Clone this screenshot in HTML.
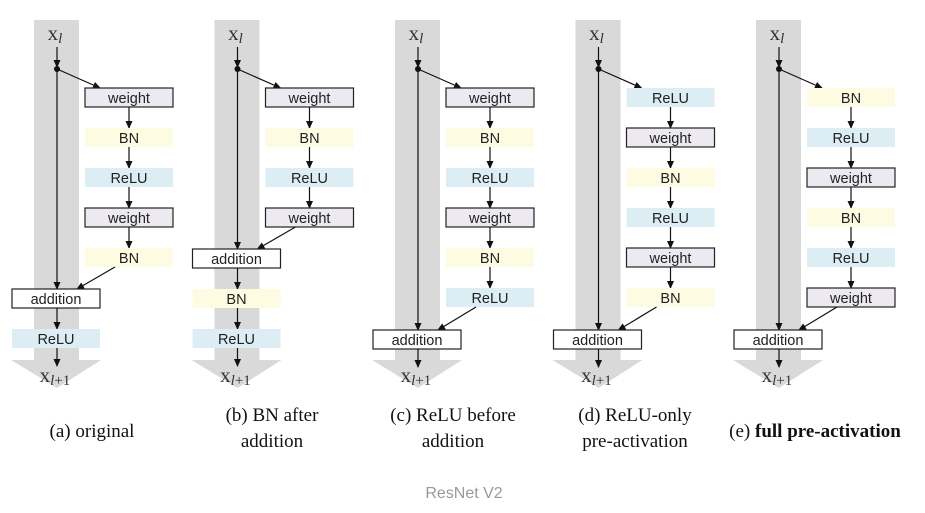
<!DOCTYPE html>
<html><head><meta charset="utf-8"><style>
html,body{margin:0;padding:0;background:#fff;width:925px;height:513px;overflow:hidden}
svg{display:block}
.bt{font-family:"Liberation Sans",sans-serif;font-size:14.5px;fill:#222}
.cap{font-family:"Liberation Serif",serif;font-size:19px;fill:#111}
.xl{font-family:"Liberation Serif",serif;font-size:21px;fill:#333}
</style></head><body>
<svg id="s" width="925" height="513" viewBox="0 0 925 513" xmlns="http://www.w3.org/2000/svg">
<defs><marker id="ah" markerWidth="8" markerHeight="8" refX="7" refY="4" orient="auto" markerUnits="userSpaceOnUse"><path d="M0,0.5 L8,4 L0,7.5 Z" fill="#111"/></marker></defs>
<text x="464" y="498" text-anchor="middle" font-family="Liberation Sans, sans-serif" font-size="16" fill="#999">ResNet V2</text>
</svg>
<script>
const panelNames=['original','bn-after-addition','relu-before-addition','relu-only-pre-activation','full-pre-activation'];
const branchBlocks=[['weight','BN','ReLU','weight','BN'],['weight','BN','ReLU','weight'],['weight','BN','ReLU','weight','BN','ReLU'],['ReLU','weight','BN','ReLU','weight','BN'],['BN','ReLU','weight','BN','ReLU','weight']];
const postBlocks=[['ReLU'],['BN','ReLU'],[],[],[]];
const captions=[['(a) original'],['(b) BN after','addition'],['(c) ReLU before','addition'],['(d) ReLU-only','pre-activation'],['(e) full pre-activation']];
const NS='http://www.w3.org/2000/svg';
const svg=document.getElementById('s');
function mk(t,a,p){const e=document.createElementNS(NS,t);for(const k in a)e.setAttribute(k,a[k]);(p||svg).appendChild(e);return e;}
const fills={weight:'#ece9f1',BN:'#fefbe3',ReLU:'#dcedf4',addition:'#ffffff'};
function box(g,x,y,w,label){
  const bg=mk('g',{},g);
  
  
  const bordered=(label==='weight'||label==='addition');
  mk('rect',{x:x,y:y,width:w,height:19,fill:fills[label],stroke:bordered?'#222':'none','stroke-width':1.2},bg);
  const t=mk('text',{x:x+w/2,y:y+15,'text-anchor':'middle',class:'bt'},bg);t.textContent=label;
}
panelNames.forEach((nm,i)=>{
  const ox=i*180.5;
  const g=mk('g',{});
  
  
  const mx=ox+57;
  mk('path',{d:`M${ox+34},20 L${ox+79},20 L${ox+79},360 L${ox+101},360 L${mx},388 L${ox+11},360 L${ox+34},360 Z`,fill:'#d9d9d9'},g);
  const xl=mk('text',{x:mx-2,y:40,'text-anchor':'middle',class:'xl'},g);
  xl.innerHTML='x<tspan font-style="italic" font-size="15" dy="3">l</tspan>';
  const nb=branchBlocks[i].length;
  const addY=nb===5?289:(nb===4?249:330);
  mk('line',{x1:mx,y1:47,x2:mx,y2:67,stroke:'#111','stroke-width':1.2,'marker-end':'url(#ah)'},g);
  mk('line',{x1:mx,y1:69,x2:mx,y2:addY,stroke:'#111','stroke-width':1.2,'marker-end':'url(#ah)'},g);
  mk('circle',{cx:mx,cy:69,r:3,fill:'#111'},g);
  const bx=ox+85,bw=88,cx=bx+bw/2;
  mk('line',{x1:mx,y1:69,x2:cx-29,y2:88,stroke:'#111','stroke-width':1.2,'marker-end':'url(#ah)'},g);
  branchBlocks[i].forEach((b,j)=>{
    const y=88+40*j;
    box(g,bx,y,bw,b);
    if(j<nb-1) mk('line',{x1:cx,y1:y+19,x2:cx,y2:y+40,stroke:'#111','stroke-width':1.2,'marker-end':'url(#ah)'},g);
  });
  const lastY=88+40*(nb-1)+19;
  mk('line',{x1:cx-14,y1:lastY,x2:ox+77,y2:addY,stroke:'#111','stroke-width':1.2,'marker-end':'url(#ah)'},g);
  box(g,ox+12,addY,88,'addition');
  let y=addY+19;
  postBlocks[i].forEach(b=>{
    mk('line',{x1:mx,y1:y,x2:mx,y2:y+21,stroke:'#111','stroke-width':1.2,'marker-end':'url(#ah)'},g);
    box(g,ox+12,y+21,88,b);
    y+=40;
  });
  mk('line',{x1:mx,y1:y,x2:mx,y2:y+18,stroke:'#111','stroke-width':1.2,'marker-end':'url(#ah)'},g);
  const xo=mk('text',{x:mx-2,y:382,'text-anchor':'middle',class:'xl'},g);
  xo.innerHTML='x<tspan font-style="italic" font-size="15" dy="3">l</tspan><tspan font-size="15">+1</tspan>';
  const cl=captions[i];
  const ccx=[92,272,453,635,815][i];
  const cg=mk('g',{},g);
  
  
  cl.forEach((line,k)=>{
    const t=mk('text',{x:ccx,y:(cl.length===1?437:421+26*k),'text-anchor':'middle',class:'cap'},cg);
    if(i===4){t.innerHTML='(e) <tspan font-weight="bold">full pre-activation</tspan>';}
    else t.textContent=line;
  });
});
</script>
</body></html>
